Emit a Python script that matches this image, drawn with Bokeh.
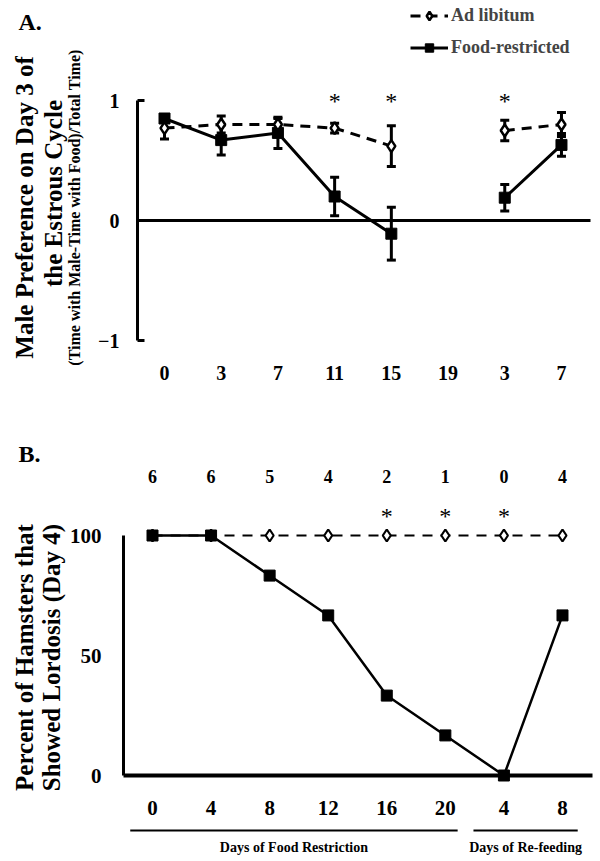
import numpy as np
from bokeh.plotting import figure
from bokeh.models import (ColumnDataSource, Whisker, TeeHead, FixedTicker, Label,
                          Legend, LegendItem, Range1d)
from bokeh.layouts import column
from bokeh.embed import file_html
from bokeh.resources import INLINE
from bokeh.core.properties import value

FONT = "Liberation Serif"

# ---------------- Panel A data ----------------
a_day_labels = ["0", "3", "7", "11", "15", "19", "3", "7"]
a_adlib_mean = [0.77, 0.80, 0.80, 0.77, 0.62, np.nan, 0.75, 0.80]
a_adlib_sem = [0.09, 0.07, 0.05, 0.04, 0.17, np.nan, 0.085, 0.10]
a_fr_mean = [0.85, 0.67, 0.73, 0.20, -0.11, np.nan, 0.19, 0.63]
a_fr_sem = [0.03, 0.125, 0.13, 0.16, 0.22, np.nan, 0.11, 0.095]
a_significant = [3, 4, 6]
a_yticks = [-1, 0, 1]

# ---------------- Panel B data ----------------
b_day_labels = ["0", "4", "8", "12", "16", "20", "4", "8"]
b_adlib_pct = [100, 100, 100, 100, 100, 100, 100, 100]
b_fr_pct = [100, 100, 83.3, 66.7, 33.3, 16.7, 0, 66.7]
b_n_lordosis = ["6", "6", "5", "4", "2", "1", "0", "4"]
b_significant = [4, 5, 6]
b_yticks = [0, 50, 100]
b_groups = ["Days of Food Restriction", "Days of Re-feeding"]
b_group_first = [0, 6]
b_group_last = [5, 7]

# ---------------- layout (pixel) constants ----------------
W = 596
HA, HB = 408, 450          # panel heights; B starts at page y = HA


def ax(px):   # page x -> panel A data x
    return (px - 164) / 56.71


def ay(py):   # page y -> panel A data y
    return (220 - py) / 120.0


def bx(px):
    return (px - 152) / 58.57


def by(py):
    return (775 - py) / 2.4


def style_fig(p):
    p.grid.visible = False
    p.outline_line_color = None
    p.background_fill_color = "white"
    p.border_fill_color = "white"


def add_label(p, text, x, y, size, angle=0.0, align="center", style="bold"):
    p.add_layout(Label(x=x, y=y, text=text, angle=angle, text_align=align,
                       text_baseline="middle", text_font=FONT, text_font_size=size,
                       text_font_style=style, text_color="black"))


def style_axis(a, size="20px"):
    a.major_label_text_font = FONT
    a.major_label_text_font_style = "bold"
    a.major_label_text_font_size = size
    a.major_label_text_color = "black"
    a.minor_tick_line_color = None


# =============== Panel A ===============
pA = figure(width=W, height=HA, title=None,
            x_range=Range1d(ax(0), ax(W)), y_range=Range1d(ay(HA), ay(0)),
            output_backend="svg", toolbar_location=None, tools="",
            min_border=0, min_border_left=0, min_border_right=0,
            min_border_top=0, min_border_bottom=0)
style_fig(pA)

xa = np.arange(len(a_day_labels))
ad_m = np.array(a_adlib_mean); ad_s = np.array(a_adlib_sem)
fr_m = np.array(a_fr_mean); fr_s = np.array(a_fr_sem)

for m, s in ((ad_m, ad_s), (fr_m, fr_s)):
    ok = ~np.isnan(m)
    src = ColumnDataSource(dict(x=xa[ok], lower=(m - s)[ok], upper=(m + s)[ok]))
    pA.add_layout(Whisker(source=src, base="x", upper="upper", lower="lower",
                          line_width=3, line_color="black",
                          upper_head=TeeHead(size=9, line_width=3, line_color="black"),
                          lower_head=TeeHead(size=9, line_width=3, line_color="black")))

# zero reference line, from the y axis to the right end of the panel
pA.segment(x0=[ax(137)], x1=[ax(590)], y0=[0], y1=[0], line_width=3, line_color="black")

la_ad = pA.line(xa, ad_m, line_width=3, line_color="black", line_dash="10 7")
la_fr = pA.line(xa, fr_m, line_width=3, line_color="black")
sa_fr = pA.scatter(xa, fr_m, marker="square", size=11, fill_color="black", line_color="black")
sa_ad = pA.scatter(xa, ad_m, marker="diamond", size=12, fill_color="white",
                   line_color="black", line_width=2.5)

pA.text(x=a_significant, y=np.full(len(a_significant), ay(100)),
        text=["*"] * len(a_significant), text_align="center", text_baseline="middle",
        text_font=value(FONT), text_font_size="24px", text_color="black")

ya = pA.yaxis[0]
ya.fixed_location = ax(137)
ya.ticker = FixedTicker(ticks=a_yticks)
ya.bounds = (-1, 1)
ya.axis_line_width = 3
ya.axis_line_color = "black"
ya.major_tick_in = 7
ya.major_tick_out = 0
ya.major_tick_line_width = 3
ya.major_tick_line_color = "black"
ya.major_label_standoff = 18
style_axis(ya)

xax = pA.xaxis[0]
xax.fixed_location = ay(350)
xax.ticker = FixedTicker(ticks=list(range(len(a_day_labels))))
xax.major_label_overrides = {i: t for i, t in enumerate(a_day_labels)}
xax.axis_line_color = None
xax.major_tick_line_color = None
xax.major_label_standoff = 9
style_axis(xax)

legend = Legend(items=[LegendItem(label="Ad libitum", renderers=[la_ad, sa_ad]),
                       LegendItem(label="Food-restricted", renderers=[la_fr, sa_fr])],
                location=(410, HA - 57.5), padding=0, margin=0,
                border_line_color=None, background_fill_alpha=0,
                label_text_font=FONT, label_text_font_style="bold", label_text_font_size="18px",
                glyph_width=38, glyph_height=21, label_height=21, spacing=11, label_standoff=3)
pA.add_layout(legend)

add_label(pA, "A.", ax(18), ay(21), "24px", align="left")
add_label(pA, "Male Preference on Day 3 of", ax(24), ay(207), "25px", angle=np.pi / 2)
add_label(pA, "the Estrous Cycle", ax(53), ay(193), "25px", angle=np.pi / 2)
add_label(pA, "(Time with Male-Time with Food)/Total Time)", ax(74), ay(207), "16px",
          angle=np.pi / 2)

# =============== Panel B ===============
pB = figure(width=W, height=HB, title=None,
            x_range=Range1d(bx(0), bx(W)), y_range=Range1d(by(HA + HB), by(HA)),
            output_backend="svg", toolbar_location=None, tools="",
            min_border=0, min_border_left=0, min_border_right=0,
            min_border_top=0, min_border_bottom=0)
style_fig(pB)
xb = np.arange(len(b_day_labels))

pB.line(xb, b_adlib_pct, line_width=2, line_color="black", line_dash="10 8")
pB.line(xb, b_fr_pct, line_width=2.5, line_color="black")
pB.scatter(xb, b_adlib_pct, marker="diamond", size=12, fill_color="white",
           line_color="black", line_width=2.2)
pB.scatter(xb, b_fr_pct, marker="square", size=11, fill_color="black", line_color="black")

pB.text(x=xb, y=np.full(len(xb), by(476)), text=b_n_lordosis, text_align="center",
        text_baseline="middle", text_font=value(FONT), text_font_style="bold",
        text_font_size="18px", text_color="black")
pB.text(x=b_significant, y=np.full(len(b_significant), by(515)),
        text=["*"] * len(b_significant), text_align="center", text_baseline="middle",
        text_font=value(FONT), text_font_size="24px", text_color="black")

yb = pB.yaxis[0]
yb.fixed_location = bx(123)
yb.ticker = FixedTicker(ticks=b_yticks)
yb.bounds = (0, 100)
yb.axis_line_width = 3
yb.axis_line_color = "black"
yb.major_tick_line_color = None
yb.major_label_standoff = 16
style_axis(yb, "21px")

xbx = pB.xaxis[0]
xbx.fixed_location = 0
xbx.ticker = FixedTicker(ticks=list(range(len(b_day_labels))))
xbx.major_label_overrides = {i: t for i, t in enumerate(b_day_labels)}
xbx.bounds = (bx(123), bx(592))
xbx.axis_line_width = 4
xbx.axis_line_color = "black"
xbx.major_tick_line_color = None
xbx.major_label_standoff = 19
style_axis(xbx, "21px")

# group brackets under the day labels
g_x0 = np.array(b_group_first) - np.array([0.38, 0.52])
g_x1 = np.array(b_group_last) + np.array([0.21, 0.26])
pB.segment(x0=g_x0, x1=g_x1, y0=np.full(2, by(830)), y1=np.full(2, by(830)),
           line_width=2, line_color="black")
pB.text(x=(g_x0 + g_x1) / 2, y=np.full(2, by(847)), text=b_groups, text_align="center",
        text_baseline="middle", text_font=value(FONT), text_font_style="bold",
        text_font_size="14px", text_color="black")

add_label(pB, "B.", bx(18), by(453), "24px", align="left")
add_label(pB, "Percent of Hamsters that", bx(24), by(657), "25px", angle=np.pi / 2)
add_label(pB, "Showed Lordosis (Day 4)", bx(51), by(657), "25px", angle=np.pi / 2)

layout = column(pA, pB)
open("out.html", "w").write(file_html(layout, INLINE))
